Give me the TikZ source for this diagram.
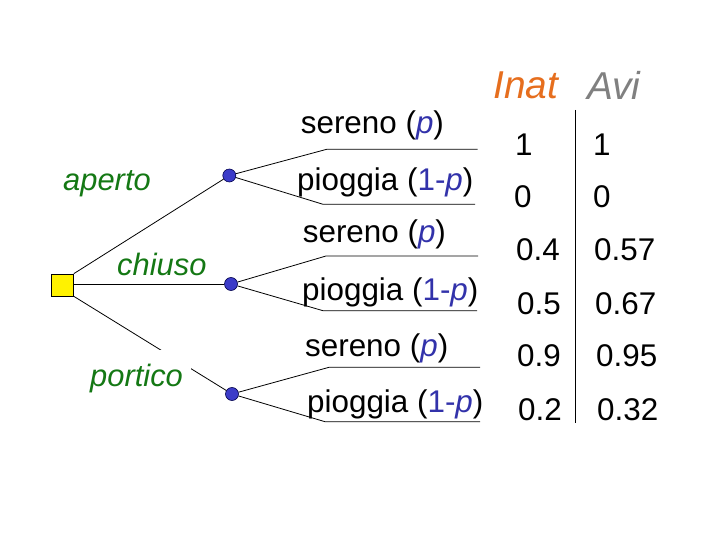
\documentclass[tikz,border=0pt]{standalone}
\usepackage{fontspec}
\setmainfont{Liberation Sans}
\definecolor{lblgreen}{RGB}{20,120,20}
\definecolor{pblue}{RGB}{50,50,170}
\definecolor{nodeblue}{RGB}{60,60,200}
\definecolor{inatorange}{RGB}{230,110,30}
\definecolor{avigray}{RGB}{128,128,128}
\newcommand{\pp}{\textcolor{pblue}{\textit{p}}}
\newcommand{\onep}{\textcolor{pblue}{1-\textit{p}}}
\begin{document}
\begin{tikzpicture}[x=1bp,y=-1bp,
  txt/.style={anchor=base west,inner sep=0pt,font=\fontsize{31.5}{37}\selectfont},
  alt/.style={anchor=base west,inner sep=0pt,text=lblgreen,font=\fontsize{31}{37}\selectfont\itshape},
  hdr/.style={anchor=base west,inner sep=0pt,font=\fontsize{39}{46}\selectfont\itshape},
  chance/.style={circle,draw=black!70!blue,fill=nodeblue,inner sep=0pt,minimum size=13bp,line width=0.6bp},
  branch/.style={line width=0.8bp,black}]
\useasboundingbox (0,0) rectangle (720,540);
% decision node and chance nodes
\node[draw=black,fill=yellow,minimum size=22bp,inner sep=0pt,line width=0.8bp] (sq) at (62.5,285) {};
\node[chance] (c1) at (229.3,175.5) {};
\node[chance] (c2) at (231,284) {};
\node[chance] (c3) at (232,394) {};
\draw[branch] (sq.north east) -- (c1);
\draw[branch] (sq.east |- c2) -- (c2);
\draw[branch] (sq.south east) -- (c3);
% branch end points
\coordinate (b1) at (326.7,149.3); \coordinate (e1) at (477.7,149.3);
\coordinate (b2) at (323,204.3);   \coordinate (e2) at (475,204.3);
\coordinate (b3) at (326,256);     \coordinate (e3) at (478,256);
\coordinate (b4) at (323,310.7);   \coordinate (e4) at (477,310.7);
\coordinate (b5) at (329,367.3);   \coordinate (e5) at (480,367.3);
\coordinate (b6) at (325,421.7);   \coordinate (e6) at (480,421.7);
\draw[branch] (c1) -- (b1) -- (e1);
\draw[branch] (c1) -- (b2) -- (e2);
\draw[branch] (c2) -- (b3) -- (e3);
\draw[branch] (c2) -- (b4) -- (e4);
\draw[branch] (c3) -- (b5) -- (e5);
\draw[branch] (c3) -- (b6) -- (e6);
% alternative labels
\node[alt] (la) at (63,190.7) {aperto};
\node[alt] (lc) at (117,276) {chiuso};
\node[alt,fill=white,inner xsep=8bp,inner ysep=0bp,text depth=8bp,text height=36bp] (lp) at (82,386) {portico};
% branch labels
\node[txt] (s1) at (300.7,134) {sereno (\pp)};
\node[txt] (p2) at (297,190.7) {pioggia (\onep)};
\node[txt] (s3) at (302.7,242.7) {sereno (\pp)};
\node[txt] (p4) at (302,300) {pioggia (\onep)};
\node[txt] (s5) at (305,356) {sereno (\pp)};
\node[txt] (p6) at (307,412) {pioggia (\onep)};
% headers
\node[hdr,text=inatorange] (hi) at (493,98.3) {Inat};
\node[hdr,text=avigray] (ha) at (587,100) {Avi};
\coordinate (vt) at (575.3,110);
\coordinate (vb) at (575.3,422.7);
\draw[branch] (vt) -- (vb);
% values
\node[txt] (i1) at (515,155.7) {1};
\node[txt] (i2) at (514,208) {0};
\node[txt] (i3) at (516,261) {0.4};
\node[txt] (i4) at (517,314) {0.5};
\node[txt] (i5) at (517,366.7) {0.9};
\node[txt] (i6) at (518,420) {0.2};
\node[txt] (a1) at (593,155.7) {1};
\node[txt] (a2) at (593,208) {0};
\node[txt] (a3) at (594,261) {0.57};
\node[txt] (a4) at (595,314) {0.67};
\node[txt] (a5) at (596,366.7) {0.95};
\node[txt] (a6) at (597,420) {0.32};
\end{tikzpicture}
\end{document}
